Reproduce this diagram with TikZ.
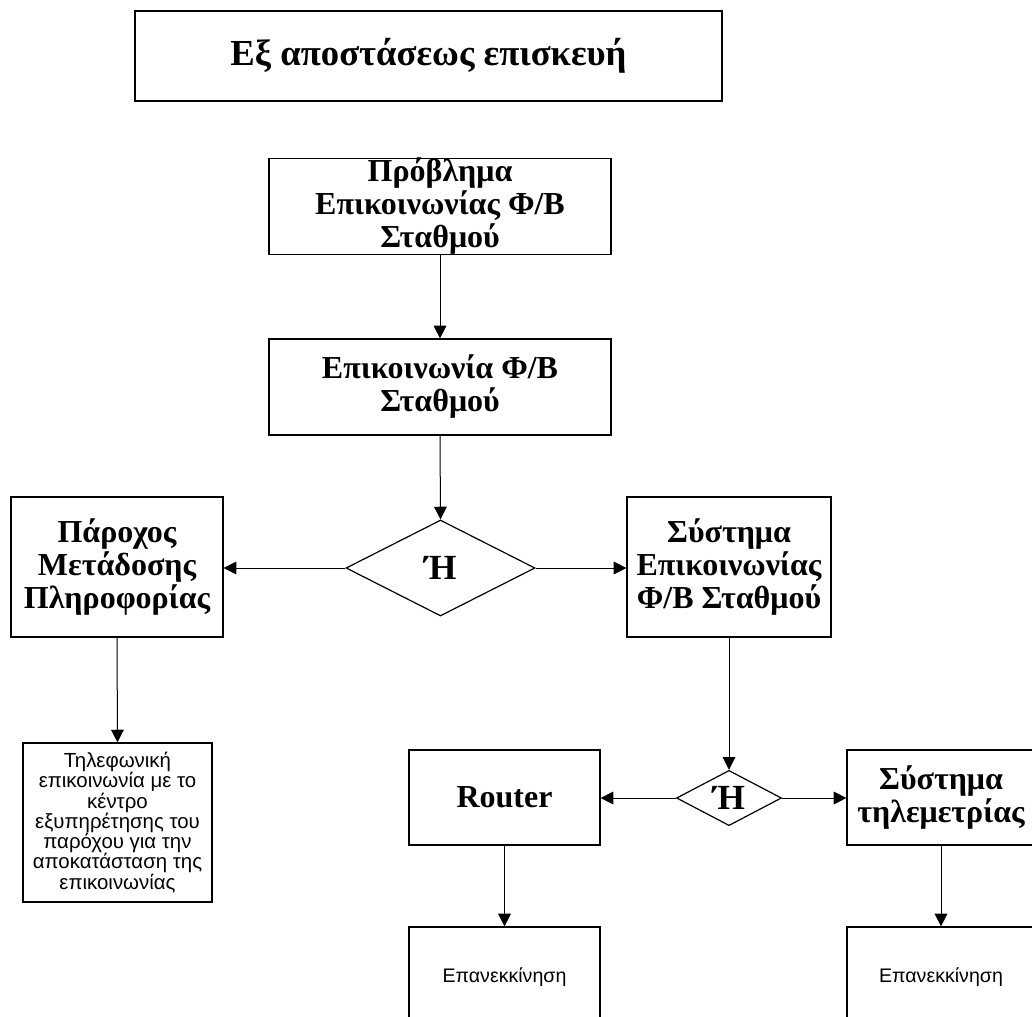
\documentclass[tikz,border=0pt]{standalone}
\usepackage{fontspec}
\setmainfont{Liberation Serif}
\newfontfamily\arialf{Liberation Sans}
\usetikzlibrary{shapes.geometric,arrows.meta}
\tikzset{
  boxb/.style={draw, line width=0.9pt, inner sep=0pt, align=center,
    font=\bfseries\fontsize{24}{24.75}\selectfont},
  boxs/.style={draw, line width=0.9pt, inner sep=0pt, align=center,
    font=\arialf\fontsize{15.3}{15.2}\selectfont},
  dia/.style={draw, diamond, line width=0.9pt, inner sep=0pt,
    font=\bfseries\fontsize{26.5}{27}\selectfont},
  arr/.style={line width=0.75pt, -{Triangle[length=9.5pt,width=9.5pt]}}
}
\begin{document}
\begin{tikzpicture}[x=0.75pt,y=-0.75pt]
\useasboundingbox (0,0) rectangle (1032,1017);
\clip (0,0) rectangle (1032,1017);
\fill[white] (0,0) rectangle (1032,1017);
\node[boxb, minimum width=587*0.75pt, minimum height=90*0.75pt,
  font=\bfseries\fontsize{27.5}{30}\selectfont] (title) at (428.5,56) {Εξ αποστάσεως επισκευή};
\node[boxb, minimum width=342*0.75pt, minimum height=95*0.75pt] (b1) at (440,206.5)
  {Πρόβλημα\\Επικοινωνίας Φ/Β\\Σταθμού};
\node[boxb, minimum width=342*0.75pt, minimum height=96*0.75pt] (b2) at (440,387)
  {Επικοινωνία Φ/Β\\Σταθμού};
\node[dia, minimum width=189*0.75pt, minimum height=96*0.75pt] (d1) at (440.5,568) {Ή};
\node[boxb, minimum width=212*0.75pt, minimum height=140*0.75pt] (b3) at (117,567)
  {Πάροχος\\Μετάδοσης\\Πληροφορίας};
\node[boxb, minimum width=204*0.75pt, minimum height=140*0.75pt] (b4) at (729,567)
  {Σύστημα\\Επικοινωνίας\\Φ/Β Σταθμού};
\node[boxs, minimum width=189*0.75pt, minimum height=159*0.75pt] (b5) at (117.5,822.5)
  {Τηλεφωνική\\επικοινωνία με το\\κέντρο\\εξυπηρέτησης του\\παρόχου για την\\αποκατάσταση της\\επικοινωνίας};
\node[dia, minimum width=105*0.75pt, minimum height=52*0.75pt] (d2) at (729,798) {Ή};
\node[boxb, minimum width=191*0.75pt, minimum height=95*0.75pt] (r) at (504.5,797.5) {Router};
\node[boxb, minimum width=188*0.75pt, minimum height=95*0.75pt] (t) at (941,797.5)
  {Σύστημα\\τηλεμετρίας};
\node[boxs, minimum width=191*0.75pt, minimum height=100*0.75pt,
  font=\arialf\fontsize{14.7}{16}\selectfont] (e1) at (504.5,977) {Επανεκκίνηση};
\node[boxs, minimum width=188*0.75pt, minimum height=100*0.75pt,
  font=\arialf\fontsize{14.7}{16}\selectfont] (e2) at (941,977) {Επανεκκίνηση};
\draw[arr] (b1.south) -- (b2.north);
\draw[arr] (b2.south) -- (d1.north);
\draw[arr] (d1.west) -- (d1.west -| b3.east);
\draw[arr] (d1.east) -- (d1.east -| b4.west);
\draw[arr] (b3.south) -- (b5.north);
\draw[arr] (b4.south) -- (d2.north);
\draw[arr] (d2.west) -- (d2.west -| r.east);
\draw[arr] (d2.east) -- (d2.east -| t.west);
\draw[arr] (r.south) -- (e1.north);
\draw[arr] (t.south) -- (e2.north);
\end{tikzpicture}
\end{document}
